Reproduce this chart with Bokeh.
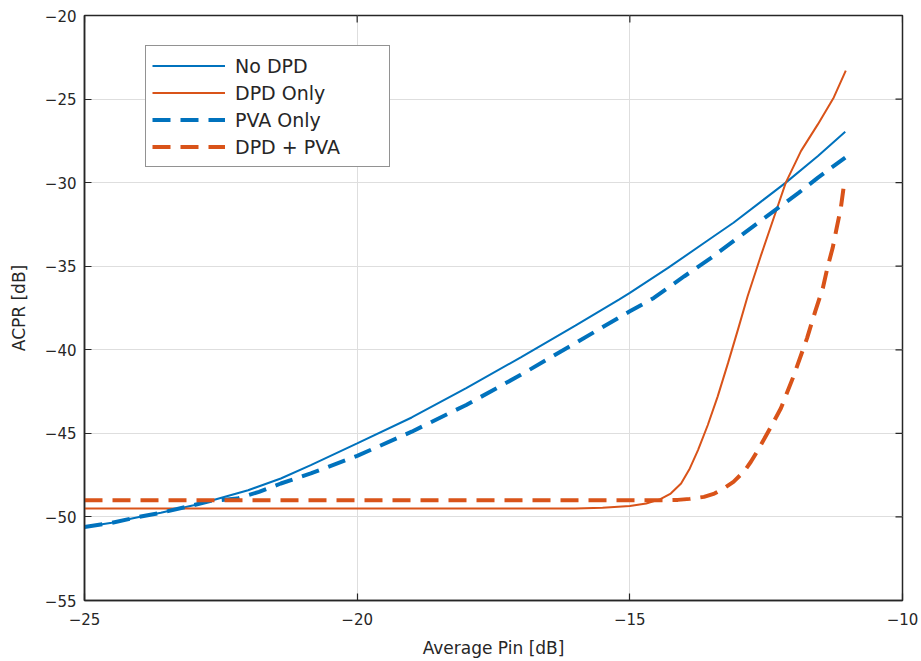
from bokeh.plotting import figure
from bokeh.models import LinearAxis, Legend, LegendItem, FixedTicker, Range1d, Grid
from bokeh.embed import file_html
from bokeh.resources import INLINE

# ---- data ----
nodpd_x = [-25, -24.5, -24, -23.6, -23, -22.7, -22, -21.4, -20.85, -20, -19, -18, -17, -16,
           -15.2, -15, -14.3, -13.5, -13.1, -12.6, -12.14, -11.55, -11.05]
nodpd_y = [-50.6, -50.35, -50.0, -49.75, -49.3, -49.05, -48.4, -47.7, -46.9, -45.6, -44.05, -42.3,
           -40.45, -38.55, -37.0, -36.6, -35.1, -33.3, -32.4, -31.15, -30.0, -28.4, -26.95]

pva_x = [-25, -24.5, -24, -23.6, -23, -22.7, -22.2, -21.8, -21.4, -20.85, -20, -19, -18, -17, -16,
         -15, -14.56, -14, -13.51, -13, -12.36, -11.9, -11.55, -11.05]
pva_y = [-50.6, -50.35, -50.0, -49.75, -49.3, -49.05, -48.9, -48.5, -48.0, -47.4, -46.35, -44.9,
         -43.3, -41.5, -39.6, -37.7, -36.9, -35.6, -34.5, -33.25, -31.7, -30.6, -29.7, -28.5]

dpd_x = [-25, -20, -16, -15.5, -15, -14.7, -14.45, -14.25, -14.06, -13.9, -13.75, -13.57, -13.39,
         -13.2, -13.0, -12.84, -12.6, -12.36, -12.14, -11.86, -11.55, -11.26, -11.04]
dpd_y = [-49.5, -49.5, -49.5, -49.45, -49.35, -49.2, -48.95, -48.6, -48.0, -47.1, -46.0, -44.5,
         -42.8, -40.8, -38.6, -36.8, -34.4, -32.1, -30.0, -28.1, -26.5, -24.9, -23.3]

both_x = [-25, -20, -15, -14.4, -14.12, -13.9, -13.64, -13.45, -13.28, -13.1, -12.91, -12.78,
          -12.65, -12.41, -12.23, -12.0, -11.75, -11.6, -11.46, -11.37, -11.28, -11.2, -11.13, -11.06]
both_y = [-49.0, -49.0, -49.0, -49.0, -48.98, -48.92, -48.8, -48.6, -48.3, -47.9, -47.3, -46.7,
          -46.0, -44.6, -43.5, -41.6, -39.3, -37.7, -36.3, -35.0, -33.9, -32.6, -31.5, -29.8]

x_ticks = [-25, -20, -15, -10]
y_ticks = [-55, -50, -45, -40, -35, -30, -25, -20]
x_lim = [-25, -10]
y_lim = [-55, -20]
labels = ["No DPD", "DPD Only", "PVA Only", "DPD + PVA"]

BLUE = "#0072BD"
ORANGE = "#D95319"
TXT = "#262626"
FONT = "DejaVu Sans"

p = figure(width=921, height=661, output_backend="svg", toolbar_location=None,
           x_range=Range1d(x_lim[0], x_lim[1]), y_range=Range1d(y_lim[0], y_lim[1]),
           min_border_left=84, min_border_right=19, min_border_top=15, min_border_bottom=61,
           x_axis_type=None, y_axis_type=None)
p.outline_line_color = TXT
p.outline_line_width = 1.5
p.background_fill_color = "white"
p.border_fill_color = "white"

def style_axis(ax, ticks):
    ax.ticker = FixedTicker(ticks=ticks)
    ax.major_tick_in = 7
    ax.major_tick_out = 0
    ax.minor_tick_line_color = None
    ax.axis_line_color = TXT
    ax.axis_line_width = 1.5
    ax.major_tick_line_color = TXT
    ax.major_tick_line_width = 1.2
    ax.major_label_text_font = FONT
    ax.major_label_text_color = TXT
    ax.axis_label_text_font = FONT
    ax.axis_label_text_color = TXT
    ax.axis_label_text_font_style = "normal"

xb = LinearAxis(axis_label="Average Pin [dB]")
style_axis(xb, x_ticks)
xb.major_label_text_font_size = "15px"
xb.major_label_standoff = 12
xb.axis_label_text_font_size = "17px"
xb.axis_label_standoff = 10
p.add_layout(xb, "below")

yl = LinearAxis(axis_label="ACPR [dB]")
style_axis(yl, y_ticks)
yl.major_label_text_font_size = "15px"
yl.major_label_standoff = 8
yl.axis_label_text_font_size = "17px"
yl.axis_label_standoff = 13
p.add_layout(yl, "left")

p.add_layout(Grid(dimension=0, ticker=FixedTicker(ticks=x_ticks), grid_line_color="#dedede", grid_line_width=1))
p.add_layout(Grid(dimension=1, ticker=FixedTicker(ticks=y_ticks), grid_line_color="#dedede", grid_line_width=1))

# inward ticks on the top and right edges (half of each dash is clipped by the frame)
p.scatter(x_ticks, [y_lim[1]] * len(x_ticks), marker="dash", angle=1.5708, size=14,
          line_color=TXT, line_width=1.2)
p.scatter([x_lim[1]] * len(y_ticks), y_ticks, marker="dash", size=14,
          line_color=TXT, line_width=1.2)

r1 = p.line(nodpd_x, nodpd_y, line_color=BLUE, line_width=2)
r2 = p.line(dpd_x, dpd_y, line_color=ORANGE, line_width=2)
r3 = p.line(pva_x, pva_y, line_color=BLUE, line_width=4, line_dash="18 10")
r4 = p.line(both_x, both_y, line_color=ORANGE, line_width=4, line_dash="18 10")

legend = Legend(items=[LegendItem(label=labels[0], renderers=[r1]),
                       LegendItem(label=labels[1], renderers=[r2]),
                       LegendItem(label=labels[2], renderers=[r3]),
                       LegendItem(label=labels[3], renderers=[r4])],
                location=(61, 433), orientation="vertical",
                label_text_font=FONT, label_text_font_size="19px", label_text_color=TXT,
                glyph_width=73, glyph_height=27, label_height=27, label_width=148,
                label_standoff=10, spacing=0, padding=6, margin=0,
                border_line_color=TXT, border_line_width=1.2,
                background_fill_color="white", background_fill_alpha=1.0)
p.add_layout(legend, "center")

open("out.html", "w").write(file_html(p, INLINE))
